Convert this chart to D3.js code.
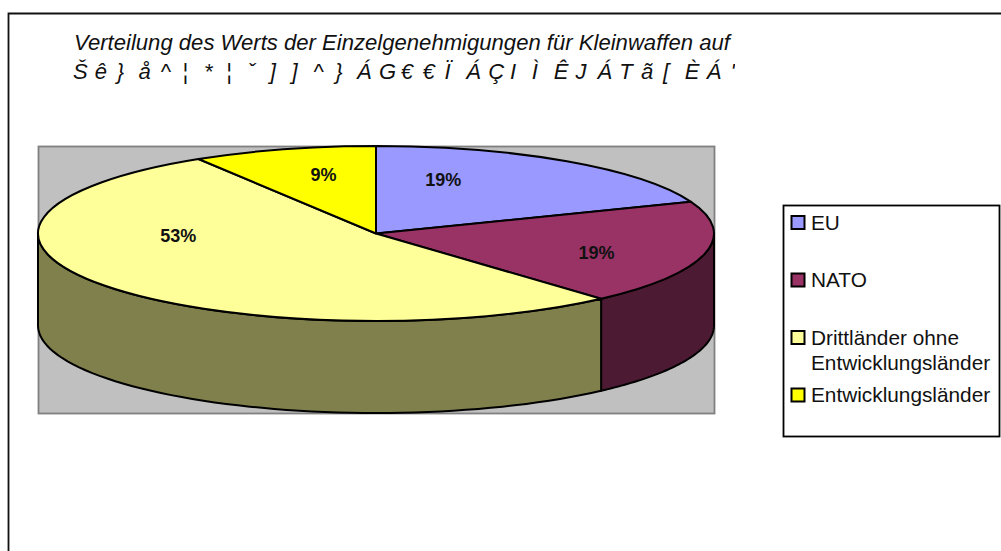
<!DOCTYPE html>
<html>
<head>
<meta charset="utf-8">
<script src="https://d3js.org/d3.v7.min.js"></script>
<style>
body { margin: 0; background: #fff; }
svg { display: block; font-family: "Liberation Sans", Arial, sans-serif; }
</style>
</head>
<body>
<svg width="1001" height="551"></svg>
<script>
var categories = ['EU', 'NATO', 'Drittländer ohne|Entwicklungsländer', 'Entwicklungsländer'];
var shares = [19.1, 19.3, 52.8, 8.8];
var labels = ['19%', '19%', '53%', '9%'];
var topColors = ['#9999ff', '#993366', '#ffff99', '#ffff00'];
var sideColors = ['#4d4d80', '#4d1a33', '#80804d', '#808000'];
var titleLine = 'Verteilung des Werts der Einzelgenehmigungen für Kleinwaffen auf';
var titleGlyphs = ['Š','ê','}','å','^','¦','*','¦','ˇ',']',']','^','}','Á','G','€','€','Ï','Á','Ç','I','Ì','Ê','J','Á','T','ã','[','È','Á','\''];

var svg = d3.select('svg');

// frame, runs off the page on the right and bottom
svg.append('path').attr('d', 'M8.5,560V13.5H1010').attr('fill', 'none').attr('stroke', '#111').attr('stroke-width', 1.8);

// title
svg.append('text').attr('x', 74).attr('y', 50).attr('font-size', 22.1).attr('font-style', 'italic').attr('fill', '#111').text(titleLine);
var glyphX = d3.scaleLinear().domain([0, 1]).range([73, 94.85]);
svg.append('clipPath').attr('id', 'titleClip').append('rect').attr('x', 60).attr('y', 52).attr('width', 675).attr('height', 40);
svg.append('g').attr('clip-path', 'url(#titleClip)').append('text')
  .attr('x', titleGlyphs.map(function (d, i) { return glyphX(i) + (i == 30 ? 2 : 0); }).join(' '))
  .attr('y', 79).attr('font-size', 22).attr('font-style', 'italic').attr('fill', '#111')
  .text(titleGlyphs.join(''));

// plot area
var plotX = 38.5, plotY = 146.5, plotW = 676, plotH = 267;
svg.append('rect').attr('x', plotX).attr('y', plotY).attr('width', plotW).attr('height', plotH)
  .attr('fill', '#c0c0c0').attr('stroke', '#808080').attr('stroke-width', 1.8);

// pie
var cx = 376, cy = 233.5, rx = 338, ry = 87.5, depth = 92;
var pie = d3.pie().sort(null).value(function (d) { return d; });
var slices = pie(shares);
var arc = d3.arc().innerRadius(0).outerRadius(rx);
var ptX = function (a) { return cx + rx * Math.sin(a); };
var ptY = function (a) { return cy - ry * Math.cos(a); };

// side wall, only the front half of the rim shows
var wall = function (a0, a1) {
  var from = Math.max(a0, Math.PI / 2), to = Math.min(a1, Math.PI * 1.5);
  if (from >= to) return null;
  var p = d3.path();
  p.moveTo(ptX(from), ptY(from));
  d3.range(0, 61).forEach(function (i) {
    var a = from + (to - from) * i / 60;
    p.lineTo(ptX(a), ptY(a));
  });
  d3.range(60, -1, -1).forEach(function (i) {
    var a = from + (to - from) * i / 60;
    p.lineTo(ptX(a), ptY(a) + depth);
  });
  p.closePath();
  return p.toString();
};

svg.append('g').selectAll('path').data(slices).enter().append('path')
  .attr('d', function (d) { return wall(d.startAngle, d.endAngle); })
  .attr('fill', function (d, i) { return sideColors[i]; })
  .attr('stroke', '#000').attr('stroke-width', 2).attr('stroke-linejoin', 'round');

svg.append('g').attr('transform', 'translate(' + cx + ',' + cy + ') scale(1,' + (ry / rx) + ')')
  .selectAll('path').data(slices).enter().append('path')
  .attr('d', arc)
  .attr('fill', function (d, i) { return topColors[i]; })
  .attr('stroke', '#000').attr('stroke-width', 2).attr('stroke-linejoin', 'round')
  .attr('vector-effect', 'non-scaling-stroke');

var labelKx = [0.353, 0.671, 0.73, 0.568];
var labelKy = [0.744, 0.95, 0.056, 0.697];
svg.append('g').selectAll('text').data(slices).enter().append('text')
  .attr('x', function (d, i) { return cx + labelKx[i] * rx * Math.sin((d.startAngle + d.endAngle) / 2); })
  .attr('y', function (d, i) { return cy - labelKy[i] * ry * Math.cos((d.startAngle + d.endAngle) / 2) + 6; })
  .attr('text-anchor', 'middle').attr('font-size', 18).attr('font-weight', 'bold').attr('fill', '#111')
  .text(function (d, i) { return labels[i]; });

// legend
svg.append('rect').attr('x', 783.5).attr('y', 205.5).attr('width', 216).attr('height', 231)
  .attr('fill', '#fff').attr('stroke', '#000').attr('stroke-width', 1.8);
var legendY = [222.5, 280, 337.5, 395];
var items = svg.append('g').selectAll('g').data(categories).enter().append('g')
  .attr('transform', function (d, i) { return 'translate(791,' + legendY[i] + ')'; });
items.append('rect').attr('x', 0.5).attr('y', -6.5).attr('width', 13).attr('height', 13)
  .attr('fill', function (d, i) { return topColors[i]; }).attr('stroke', '#000').attr('stroke-width', 2);
items.each(function (d) {
  var g = d3.select(this);
  d.split('|').forEach(function (line, j) {
    g.append('text').attr('x', 20).attr('y', 7 + j * 25).attr('font-size', 20.8).attr('fill', '#111').text(line);
  });
});
</script>
</body>
</html>
